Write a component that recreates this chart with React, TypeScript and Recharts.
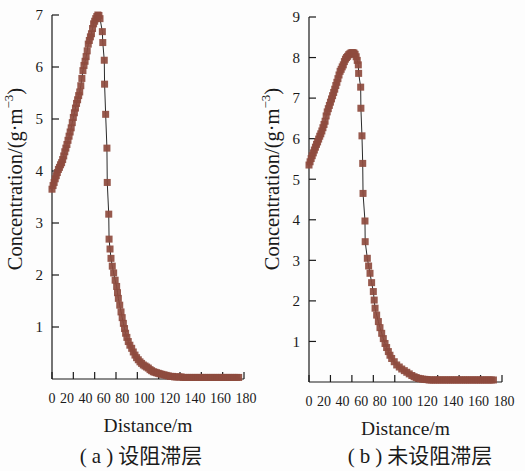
import React from "react";
import { LineChart, Line, XAxis, YAxis, Label } from "recharts";

// (a) 设阻滞层 — distance (m) / concentration (g·m-3)
const distanceA = [
  0, 1, 2, 3, 4, 5, 6, 7, 8, 9, 10, 11, 12, 13, 14, 15, 16, 17, 18, 19, 20, 21, 22, 23, 24, 25,
  26, 27, 28, 29, 30, 31, 32, 33, 34, 35, 36, 37, 38, 39, 40, 41, 42, 43, 44, 45, 47.2, 47.6,
  49, 49.3, 50.3, 51.5, 51.8, 53.2, 53.5, 54.4, 55.3, 56.5, 57.8, 59.2, 60.6, 61.4, 62.2, 63.5,
  64.7, 65.8, 66.9, 68, 69, 70.2, 71.5, 73, 74.7, 76.2, 77.8, 79.3, 80.9, 82.5, 84, 85.6, 87.2,
  88.7, 90.3, 91.9, 93.4, 95, 96.5, 98, 99.6, 101.2, 103, 105, 107, 109, 111, 113, 115, 117,
  119, 121, 123, 125, 127, 129, 131, 133, 135, 137, 139, 141, 143, 145, 147, 149, 151, 153,
  155, 157, 159, 161, 163, 165, 167, 169, 171, 173, 175,
];
const concA = [
  3.65, 3.72, 3.78, 3.85, 3.91, 3.97, 4.03, 4.07, 4.12, 4.16, 4.22, 4.29, 4.37, 4.44, 4.51,
  4.59, 4.67, 4.75, 4.83, 4.93, 5.03, 5.12, 5.21, 5.3, 5.37, 5.45, 5.52, 5.64, 5.78, 5.93, 6.03,
  6.11, 6.2, 6.31, 6.44, 6.51, 6.58, 6.64, 6.74, 6.83, 6.88, 6.93, 6.97, 7.0, 6.99, 6.93, 6.68,
  6.47, 6.13, 5.67, 5.09, 4.44, 3.78, 3.17, 2.69, 2.5, 2.32, 2.17, 2.04, 1.9, 1.78, 1.66, 1.55,
  1.42, 1.29, 1.18, 1.07, 0.97, 0.88, 0.8, 0.72, 0.65, 0.59, 0.52, 0.46, 0.41, 0.37, 0.33, 0.3,
  0.27, 0.25, 0.23, 0.21, 0.18, 0.16, 0.14, 0.13, 0.12, 0.11, 0.1, 0.09, 0.08, 0.07, 0.06, 0.05,
  0.05, 0.04, 0.04, 0.04, 0.04, 0.03, 0.03, 0.03, 0.03, 0.03, 0.03, 0.03, 0.03, 0.03, 0.03,
  0.03, 0.03, 0.03, 0.03, 0.03, 0.03, 0.03, 0.03, 0.03, 0.03, 0.03, 0.03, 0.03, 0.03, 0.03,
  0.03, 0.03, 0.03,
];

// (b) 未设阻滞层
const distanceB = [
  0, 1, 2, 3, 4, 5, 6, 7, 8, 9, 10, 11, 12, 13, 14, 15, 16, 17, 18, 19, 20, 21, 22, 23, 24, 25,
  26, 27, 28, 29, 30, 31, 32, 33, 34, 35, 36, 37, 38, 39, 40, 41, 42, 43, 44, 45, 46, 46.3,
  48.2, 48.4, 49.4, 50.1, 50.4, 52.2, 52.4, 54.4, 55.6, 56.9, 58.4, 60, 60.8, 61.6, 63.1, 64.7,
  66.2, 67.8, 69.3, 70.9, 72.4, 74, 75.5, 77.1, 79.5, 81.8, 84.2, 86.5, 88.9, 91.2, 93.5, 95.9,
  98, 100, 102, 104, 106, 108, 110, 112, 114, 116, 118, 120, 122, 124, 126, 128, 130, 132, 134,
  136, 138, 140, 142, 144, 146, 148, 150, 152, 154, 156, 158, 160, 162, 164, 166, 168, 170, 172,
  173.5,
];
const concB = [
  5.35, 5.43, 5.51, 5.58, 5.65, 5.72, 5.79, 5.86, 5.92, 5.99, 6.06, 6.12, 6.19, 6.27, 6.35,
  6.43, 6.56, 6.66, 6.74, 6.82, 6.9, 6.98, 7.06, 7.14, 7.22, 7.31, 7.39, 7.48, 7.57, 7.66, 7.71,
  7.77, 7.82, 7.9, 7.96, 8.0, 8.03, 8.07, 8.09, 8.11, 8.12, 8.12, 8.11, 8.08, 8.02, 7.93, 7.82,
  7.61, 7.27, 6.75, 6.07, 5.39, 4.65, 3.97, 3.46, 3.05, 2.86, 2.68, 2.45, 2.23, 2.02, 1.82,
  1.65, 1.49, 1.34, 1.2, 1.07, 0.95, 0.85, 0.75, 0.66, 0.58, 0.5, 0.42, 0.37, 0.32, 0.28, 0.24,
  0.2, 0.16, 0.13, 0.11, 0.09, 0.08, 0.07, 0.065, 0.06, 0.05, 0.05, 0.05, 0.05, 0.05, 0.05,
  0.05, 0.05, 0.05, 0.05, 0.05, 0.05, 0.05, 0.05, 0.05, 0.05, 0.05, 0.05, 0.05, 0.05, 0.05,
  0.05, 0.05, 0.05, 0.05, 0.05, 0.05, 0.05, 0.05, 0.05, 0.05,
];

const xTicks = [0, 20, 40, 60, 80, 100, 120, 140, 160, 180];
const xTickLabels = xTicks.map(String);
const yTicksA = [1, 2, 3, 4, 5, 6, 7];
const yTicksB = [1, 2, 3, 4, 5, 6, 7, 8, 9];

const xTitle = "Distance/m";
const yTitle = "Concentration/(g·m";
const captionA = ["(a)", "设阻滞层"];
const captionB = ["(b)", "未设阻滞层"];

const SERIF = "Liberation Serif, DejaVu Serif, Times New Roman, serif";
const MARKER = "#8e4b3e";
const AXIS = "#1a1a1a";
const TICK_FS = 14;
const DIGIT_W = 7;

// the x labels sit in one justified row under the axis, like the original figure
function XTick(props: any) {
  const { x, y, payload, plotW } = props;
  const v = payload.value as number;
  const i = xTicks.indexOf(v);
  const start = x - (v / 180) * plotW;
  const widths = xTickLabels.map((s) => s.length * DIGIT_W);
  const total = plotW + (widths[0] + widths[widths.length - 1]) / 2 + 2;
  const gap = (total - widths.reduce((a, b) => a + b, 0)) / (widths.length - 1);
  let left = start - widths[0] / 2;
  for (let j = 0; j < i; j++) left += widths[j] + gap;
  return (
    <text x={left} y={y} dy="0.71em" textAnchor="start" fill={AXIS} style={{ fontFamily: SERIF, fontSize: TICK_FS }}>
      {xTickLabels[i]}
    </text>
  );
}

function Square(props: any) {
  const { cx, cy } = props;
  if (cx == null || cy == null) return <g />;
  return <rect x={cx - 3.5} y={cy - 3.5} width={7} height={7} fill={MARKER} fillOpacity={0.92} />;
}

function Panel({
  distance, conc, yTicks, yMax, margin, plotW,
}: {
  distance: number[]; conc: number[]; yTicks: number[]; yMax: number;
  margin: { top: number; right: number; left: number; bottom: number }; plotW: number;
}) {
  const data = distance.map((d, i) => ({ d, c: conc[i] }));
  return (
    <LineChart width={262} height={471} data={data} margin={margin}>
      <XAxis
        dataKey="d" type="number" domain={[0, 180]} ticks={xTicks} interval={0}
        height={60} tickSize={-7} tickMargin={21}
        axisLine={{ stroke: AXIS, strokeWidth: 1.2 }}
        tickLine={{ stroke: AXIS, strokeWidth: 1.2 }}
        tick={(p: any) => <XTick {...p} plotW={plotW} />}
      >
        <Label
          value={xTitle} position="insideBottom" offset={7}
          style={{ fontFamily: SERIF, fontSize: 19.5, fill: AXIS }}
        />
      </XAxis>
      <YAxis
        type="number" domain={[0, yMax]} ticks={yTicks} interval={0} width={52}
        tickSize={-7} tickMargin={16}
        axisLine={{ stroke: AXIS, strokeWidth: 1.2 }}
        tickLine={{ stroke: AXIS, strokeWidth: 1.2 }}
        tick={{ fill: AXIS, style: { fontFamily: SERIF, fontSize: 15 } }}
      >
        <Label
          content={({ viewBox }: any) => {
            const cx = viewBox.x + 15;
            const cy = 179;
            return (
              <text
                x={cx} y={cy} transform={`rotate(-90 ${cx} ${cy})`} textAnchor="middle"
                dominantBaseline="central" fill={AXIS} style={{ fontFamily: SERIF, fontSize: 20.5 }}
              >
                {yTitle}
                <tspan dy={-7} style={{ fontSize: 13 }}>−3</tspan>
                <tspan dy={7}>)</tspan>
              </text>
            );
          }}
        />
      </YAxis>
      <Line dataKey="c" stroke="none" dot={<Square />} activeDot={false} isAnimationActive={false} />
      <Line dataKey="c" stroke="#2a2a2a" strokeWidth={1} dot={false} activeDot={false} isAnimationActive={false} />
    </LineChart>
  );
}

function Caption({ parts, center }: { parts: string[]; center: number }) {
  return (
    <div
      style={{
        position: "absolute", left: center - 90, top: 442, width: 180, textAlign: "center",
        fontSize: 21, lineHeight: "25px", color: AXIS, whiteSpace: "nowrap",
      }}
    >
      <span style={{ fontFamily: SERIF, letterSpacing: 5 }}>{parts[0]}</span>
      <span style={{ fontFamily: "Noto Sans CJK SC, sans-serif" }}>{parts[1]}</span>
    </div>
  );
}

export default function App() {
  return (
    <div style={{ position: "absolute", left: 0, top: 0, width: 525, height: 471, background: "#fdfdfd", overflow: "hidden" }}>
      <div style={{ position: "absolute", left: 0, top: 0 }}>
        <Panel
          distance={distanceA} conc={concA} yTicks={yTicksA} yMax={7} plotW={192}
          margin={{ top: 15, right: 18, left: 0, bottom: 32 }}
        />
      </div>
      <div style={{ position: "absolute", left: 257, top: 0 }}>
        <Panel
          distance={distanceB} conc={concB} yTicks={yTicksB} yMax={9} plotW={193}
          margin={{ top: 17, right: 17, left: 0, bottom: 29 }}
        />
      </div>
      <Caption parts={captionA} center={141} />
      <Caption parts={captionB} center={420} />
    </div>
  );
}
